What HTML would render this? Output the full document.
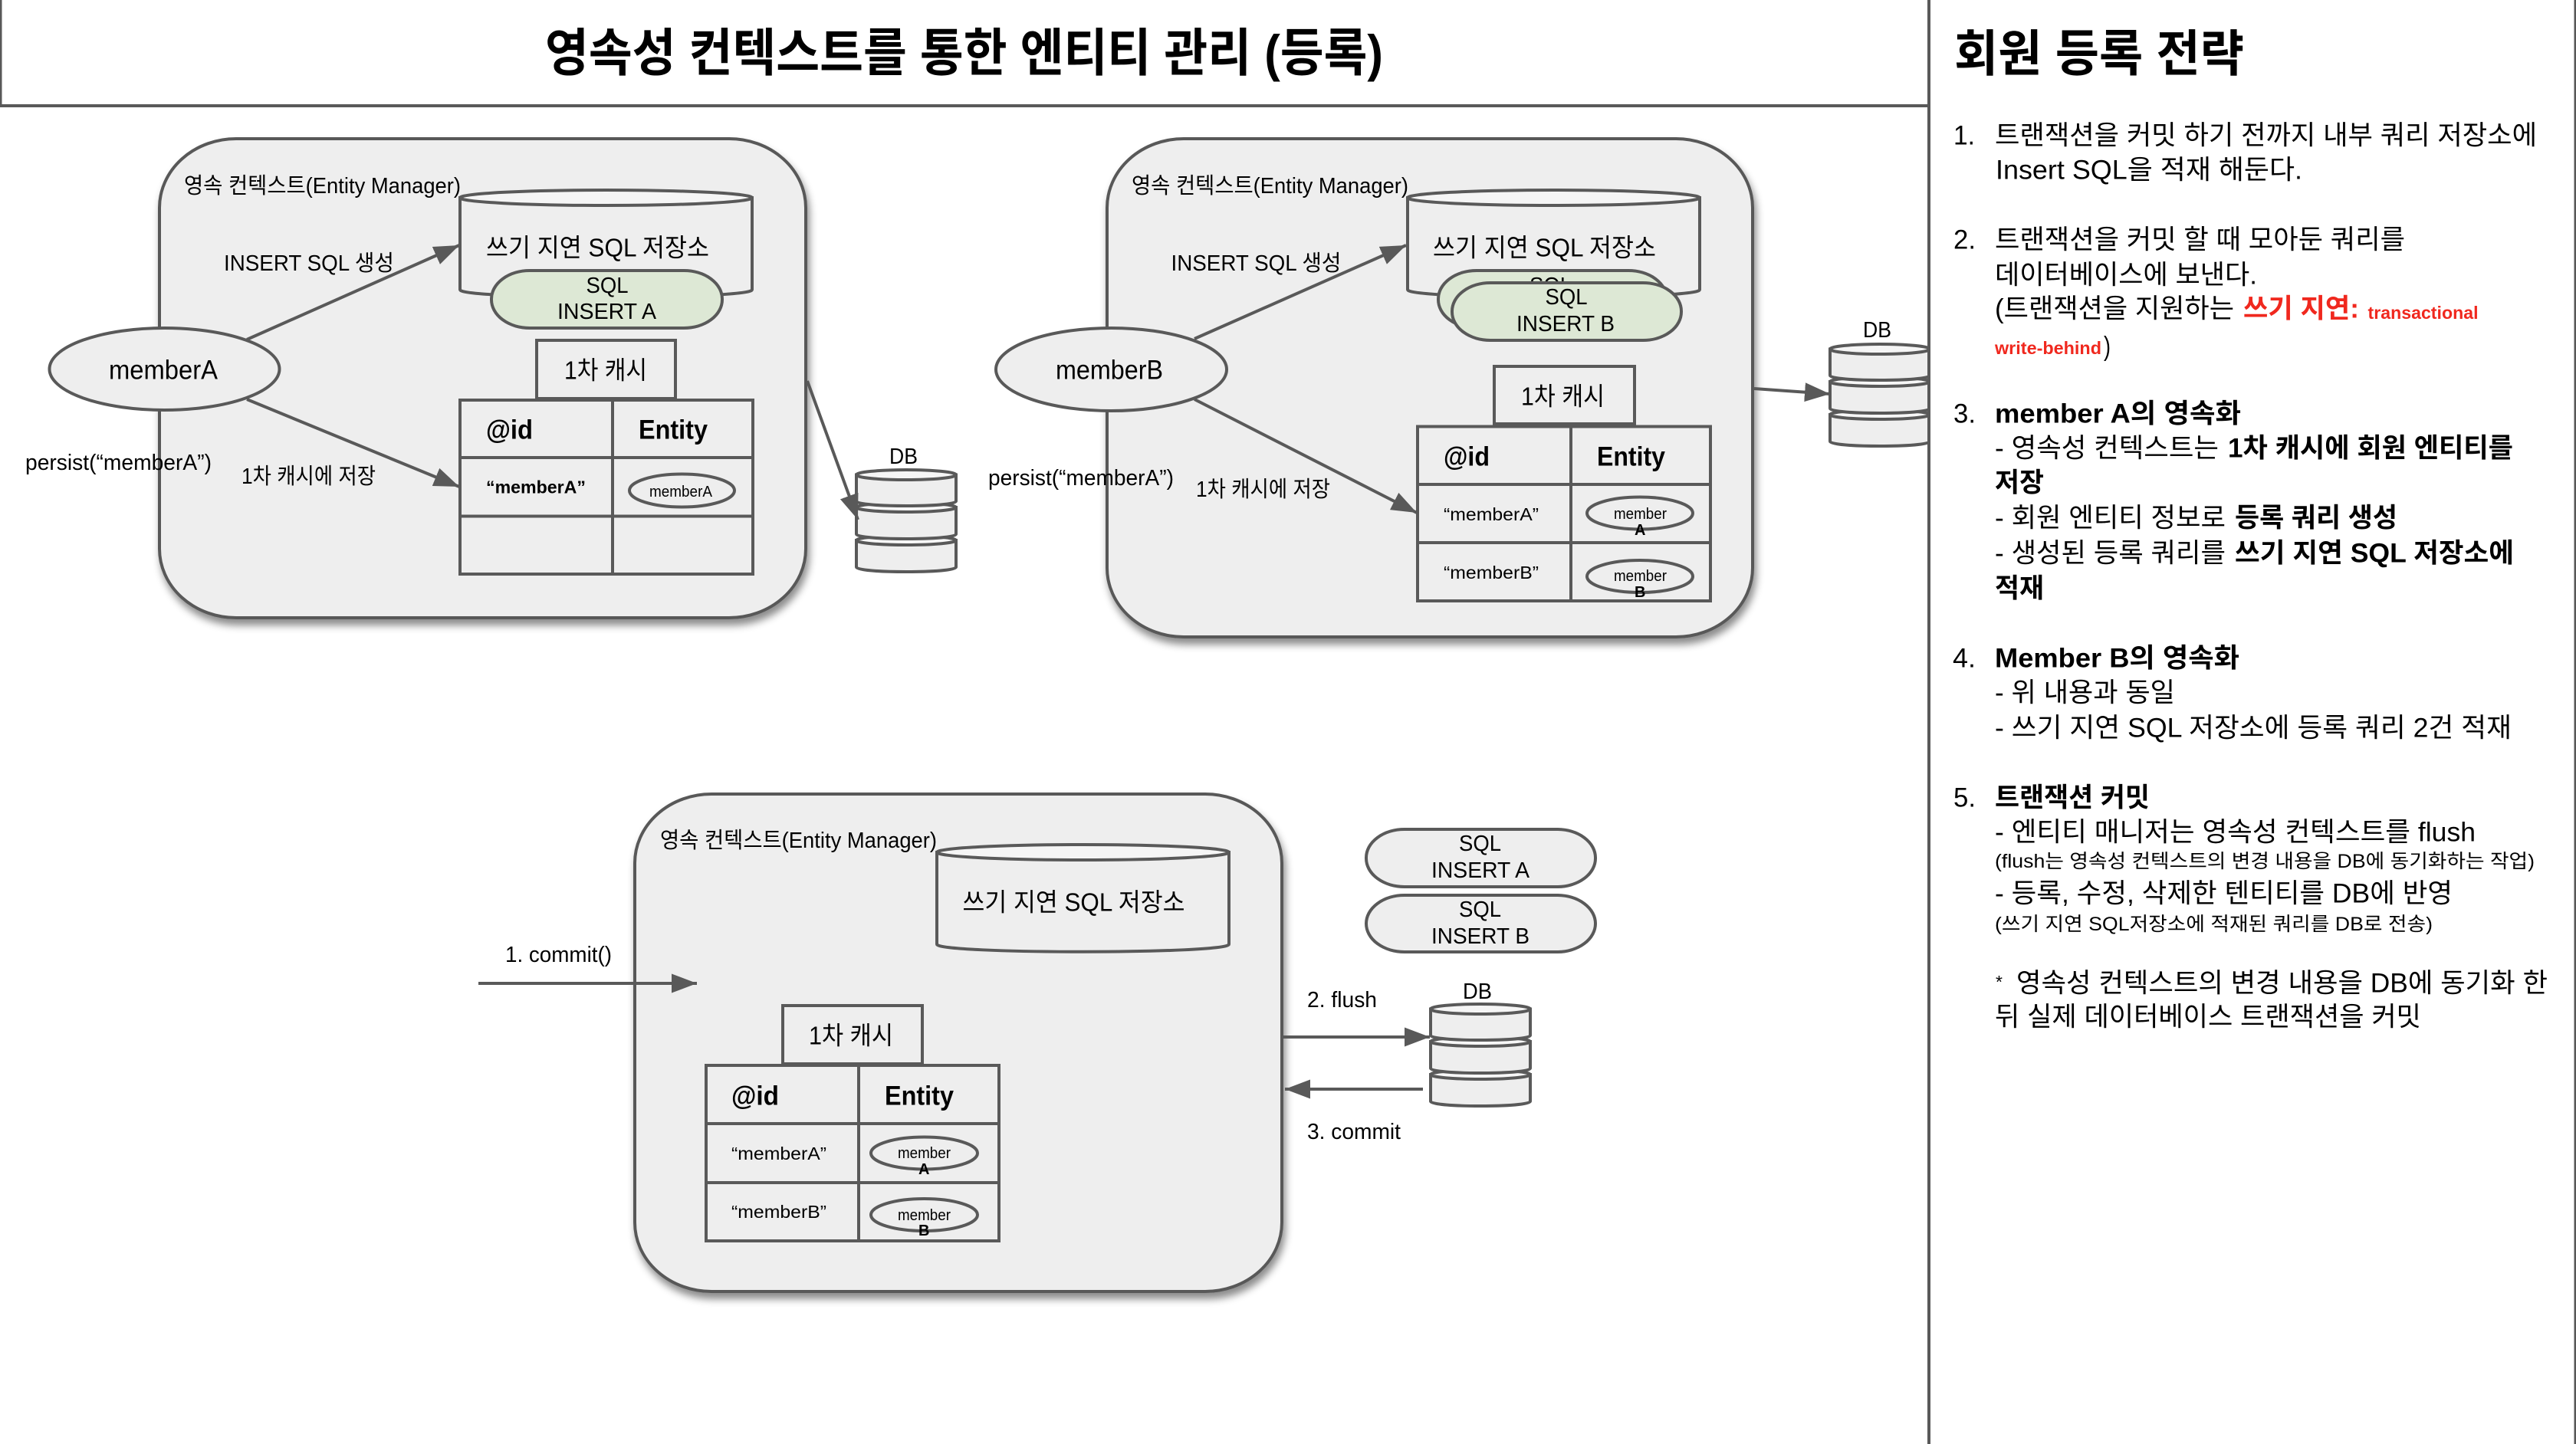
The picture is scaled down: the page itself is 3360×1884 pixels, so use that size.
<!DOCTYPE html>
<html lang="ko">
<head>
<meta charset="utf-8">
<title>영속성 컨텍스트를 통한 엔티티 관리 (등록)</title>
<style>
html,body{margin:0;padding:0;background:#fff;width:3360px;height:1884px;overflow:hidden}
svg{display:block}
text{font-family:"Liberation Sans","Noto Sans CJK KR",sans-serif;fill:#000;dominant-baseline:central;white-space:pre}
.b{font-weight:bold}
.f20{font-size:20px}.f22{font-size:23px}.f28{font-size:29px}.f32{font-size:33px}.f34{font-size:35px}
.r{fill:#f0281e}
.s{fill:none;stroke:#595959;stroke-width:4}
.a{fill:none;stroke:#595959;stroke-width:4;marker-end:url(#ah)}
.e{fill:#eeeeee;stroke:#595959;stroke-width:4}
.box{fill:#eeeeee;stroke:#595959;stroke-width:4;filter:url(#sh)}
.g{fill:#dde8d5;stroke:#595959;stroke-width:4}
</style>
</head>
<body>
<svg xmlns="http://www.w3.org/2000/svg" width="3360" height="1884" viewBox="0 0 3360 1884">
<defs>
<filter id="sh" x="-5%" y="-5%" width="110%" height="112%">
<feDropShadow dx="3" dy="8" stdDeviation="5" flood-color="#000" flood-opacity=".45"/>
</filter>
<marker id="ah" markerUnits="userSpaceOnUse" markerWidth="34" markerHeight="26" refX="33" refY="12.5" orient="auto">
<path d="M0,0 L33,12.5 L0,25 Z" fill="#595959"/>
</marker>
<g id="db">
<path d="M0,92 V127 C0,135 130,135 130,127 V92 Z" class="e"/>
<ellipse cx="65" cy="92" rx="65" ry="6" fill="#f7f7f7" stroke="#595959" stroke-width="4"/>
<path d="M0,49 V84 C0,92 130,92 130,84 V49 Z" class="e"/>
<ellipse cx="65" cy="49" rx="65" ry="6" fill="#f7f7f7" stroke="#595959" stroke-width="4"/>
<path d="M0,6.500 V41 C0,49 130,49 130,41 V6.500 Z" class="e"/>
<ellipse cx="65" cy="6.500" rx="65" ry="6.500" fill="#f5f5f5" stroke="#595959" stroke-width="4"/>
</g>
<g id="cyl">
<path d="M0,10 V130 C0,143 381,143 381,130 V10 Z" class="e"/>
<ellipse cx="190.5" cy="10" rx="190.5" ry="10" fill="#f5f5f5" stroke="#595959" stroke-width="4"/>
</g>
</defs>

<!-- frame -->
<line x1="1" y1="0" x2="1" y2="138" stroke="#595959" stroke-width="3"/>
<line x1="0" y1="138" x2="2516" y2="138" stroke="#595959" stroke-width="4"/>
<text x="711" y="70" class="b" font-size="67" textLength="1093" lengthAdjust="spacingAndGlyphs">영속성 컨텍스트를 통한 엔티티 관리 (등록)</text>

<!-- Diagram A -->
<rect x="208" y="181" width="843" height="625" rx="100" ry="90" class="box"/>
<text x="240" y="243" class="f28" textLength="361" lengthAdjust="spacingAndGlyphs">영속 컨텍스트(Entity Manager)</text>
<use href="#cyl" x="600" y="248"/>
<text x="634" y="323" class="f32" textLength="291" lengthAdjust="spacingAndGlyphs">쓰기 지연 SQL 저장소</text>
<rect x="641" y="353" width="301" height="75" rx="50" ry="37" class="g"/>
<text x="764.500" y="373" class="f28" textLength="55" lengthAdjust="spacingAndGlyphs">SQL</text>
<text x="727" y="407" class="f28" textLength="129" lengthAdjust="spacingAndGlyphs">INSERT A</text>
<rect x="700" y="444" width="181" height="76" class="s"/>
<text x="736" y="483" class="f32" textLength="108" lengthAdjust="spacingAndGlyphs">1차 캐시</text>
<rect x="600" y="522" width="382" height="227" class="s"/>
<path d="M799,522 V749 M600,597 H982 M600,673.500 H982" class="s"/>
<text x="634" y="561" class="f34 b" textLength="61" lengthAdjust="spacingAndGlyphs">@id</text>
<text x="833" y="561" class="f34 b" textLength="90" lengthAdjust="spacingAndGlyphs">Entity</text>
<text x="634" y="635.500" class="f22 b" textLength="130" lengthAdjust="spacingAndGlyphs">“memberA”</text>
<ellipse cx="889.500" cy="640" rx="68.500" ry="21.500" class="s"/>
<text x="847" y="642" class="f20" textLength="82" lengthAdjust="spacingAndGlyphs">memberA</text>
<ellipse cx="214.500" cy="481.500" rx="150" ry="53.500" class="e"/>
<text x="142" y="483" class="f34" textLength="142" lengthAdjust="spacingAndGlyphs">memberA</text>
<line x1="322" y1="443" x2="599" y2="320" class="a"/>
<line x1="322" y1="521" x2="599" y2="635" class="a"/>
<text x="292" y="344" class="f28" textLength="222" lengthAdjust="spacingAndGlyphs">INSERT SQL 생성</text>
<text x="33" y="604" class="f28" textLength="243" lengthAdjust="spacingAndGlyphs">persist(“memberA”)</text>
<text x="315" y="622" class="f28" textLength="175" lengthAdjust="spacingAndGlyphs">1차 캐시에 저장</text>
<use href="#db" x="1117" y="613"/>
<text x="1160" y="596" class="f28" textLength="37" lengthAdjust="spacingAndGlyphs">DB</text>
<line x1="1053" y1="497" x2="1119" y2="678" class="a"/>

<!-- Diagram B -->
<rect x="1444" y="181" width="842" height="650" rx="100" ry="90" class="box"/>
<text x="1476" y="243" class="f28" textLength="361" lengthAdjust="spacingAndGlyphs">영속 컨텍스트(Entity Manager)</text>
<use href="#cyl" x="1836" y="248"/>
<text x="1869" y="323" class="f32" textLength="291" lengthAdjust="spacingAndGlyphs">쓰기 지연 SQL 저장소</text>
<rect x="1876" y="353" width="298" height="75" rx="50" ry="37" class="g"/>
<text x="1995" y="373" class="f28" textLength="55" lengthAdjust="spacingAndGlyphs">SQL</text>
<rect x="1894" y="369" width="299" height="75" rx="50" ry="37" class="g"/>
<text x="2015.500" y="388" class="f28" textLength="55" lengthAdjust="spacingAndGlyphs">SQL</text>
<text x="1978" y="423" class="f28" textLength="128" lengthAdjust="spacingAndGlyphs">INSERT B</text>
<rect x="1949" y="478" width="183" height="75" class="s"/>
<text x="1984" y="517" class="f32" textLength="109" lengthAdjust="spacingAndGlyphs">1차 캐시</text>
<rect x="1849" y="556.500" width="382" height="227.500" class="s"/>
<path d="M2049,556.500 V784 M1849,632 H2231 M1849,708 H2231" class="s"/>
<text x="1883" y="596" class="f34 b" textLength="60" lengthAdjust="spacingAndGlyphs">@id</text>
<text x="2083" y="596" class="f34 b" textLength="89" lengthAdjust="spacingAndGlyphs">Entity</text>
<text x="1883" y="671" class="f22" textLength="124" lengthAdjust="spacingAndGlyphs">“memberA”</text>
<text x="1883" y="747" class="f22" textLength="124" lengthAdjust="spacingAndGlyphs">“memberB”</text>
<ellipse cx="2139" cy="669.500" rx="69" ry="21" class="s"/>
<text x="2105" y="671" class="f20" textLength="69" lengthAdjust="spacingAndGlyphs">member</text>
<text x="2132" y="692" class="f20 b">A</text>
<ellipse cx="2139" cy="752" rx="69" ry="21" class="s"/>
<text x="2105" y="752" class="f20" textLength="69" lengthAdjust="spacingAndGlyphs">member</text>
<text x="2132" y="773" class="f20 b">B</text>
<ellipse cx="1449.500" cy="482" rx="150.500" ry="54" class="e"/>
<text x="1377" y="483" class="f34" textLength="140" lengthAdjust="spacingAndGlyphs">memberB</text>
<line x1="1558" y1="442" x2="1834" y2="320" class="a"/>
<line x1="1558" y1="521" x2="1848" y2="669" class="a"/>
<text x="1527.500" y="344" class="f28" textLength="222" lengthAdjust="spacingAndGlyphs">INSERT SQL 생성</text>
<text x="1289" y="624" class="f28" textLength="242" lengthAdjust="spacingAndGlyphs">persist(“memberA”)</text>
<text x="1560" y="639" class="f28" textLength="175" lengthAdjust="spacingAndGlyphs">1차 캐시에 저장</text>
<use href="#db" x="2387" y="449"/>
<text x="2430" y="431" class="f28" textLength="37" lengthAdjust="spacingAndGlyphs">DB</text>
<line x1="2288" y1="507" x2="2387" y2="514" class="a"/>

<!-- Diagram C -->
<rect x="828" y="1036" width="844" height="649" rx="100" ry="90" class="box"/>
<text x="861" y="1097" class="f28" textLength="361" lengthAdjust="spacingAndGlyphs">영속 컨텍스트(Entity Manager)</text>
<use href="#cyl" x="1222" y="1102"/>
<text x="1255.500" y="1177" class="f32" textLength="290" lengthAdjust="spacingAndGlyphs">쓰기 지연 SQL 저장소</text>
<rect x="1021" y="1312" width="182" height="76" class="s"/>
<text x="1055" y="1351" class="f32" textLength="110" lengthAdjust="spacingAndGlyphs">1차 캐시</text>
<rect x="921" y="1390" width="382" height="229" class="s"/>
<path d="M1120,1390 V1619 M921,1466 H1303 M921,1543 H1303" class="s"/>
<text x="954" y="1430" class="f34 b" textLength="62" lengthAdjust="spacingAndGlyphs">@id</text>
<text x="1154" y="1430" class="f34 b" textLength="90" lengthAdjust="spacingAndGlyphs">Entity</text>
<text x="954" y="1505" class="f22" textLength="124" lengthAdjust="spacingAndGlyphs">“memberA”</text>
<text x="954" y="1581" class="f22" textLength="124" lengthAdjust="spacingAndGlyphs">“memberB”</text>
<ellipse cx="1205.500" cy="1504.500" rx="69.500" ry="21" class="s"/>
<text x="1171" y="1505" class="f20" textLength="69" lengthAdjust="spacingAndGlyphs">member</text>
<text x="1198" y="1526" class="f20 b">A</text>
<ellipse cx="1205.500" cy="1585" rx="69.500" ry="21" class="s"/>
<text x="1171" y="1586" class="f20" textLength="69" lengthAdjust="spacingAndGlyphs">member</text>
<text x="1198" y="1606" class="f20 b">B</text>
<rect x="1782" y="1082" width="299" height="75" rx="50" ry="37" class="e"/>
<text x="1903" y="1101" class="f28" textLength="55" lengthAdjust="spacingAndGlyphs">SQL</text>
<text x="1867" y="1136" class="f28" textLength="128" lengthAdjust="spacingAndGlyphs">INSERT A</text>
<rect x="1782" y="1168" width="299" height="74" rx="50" ry="37" class="e"/>
<text x="1903" y="1187" class="f28" textLength="55" lengthAdjust="spacingAndGlyphs">SQL</text>
<text x="1867" y="1222" class="f28" textLength="128" lengthAdjust="spacingAndGlyphs">INSERT B</text>
<line x1="624" y1="1283" x2="909" y2="1283" class="a"/>
<text x="659" y="1246" class="f28" textLength="139" lengthAdjust="spacingAndGlyphs">1. commit()</text>
<text x="1705" y="1305" class="f28" textLength="91" lengthAdjust="spacingAndGlyphs">2. flush</text>
<line x1="1674" y1="1353" x2="1865" y2="1353" class="a"/>
<text x="1705" y="1477" class="f28" textLength="122" lengthAdjust="spacingAndGlyphs">3. commit</text>
<line x1="1856" y1="1421" x2="1676" y2="1421" class="a"/>
<use href="#db" x="1866" y="1310"/>
<text x="1908" y="1294" class="f28" textLength="38" lengthAdjust="spacingAndGlyphs">DB</text>

<!-- right panel -->
<rect x="2516" y="0" width="844" height="1884" fill="#fff"/>
<line x1="2516" y1="0" x2="2516" y2="1884" stroke="#595959" stroke-width="4"/>
<line x1="3359" y1="0" x2="3359" y2="1884" stroke="#595959" stroke-width="3"/>
<text x="2549" y="70" class="b" font-size="65" textLength="378" lengthAdjust="spacingAndGlyphs">회원 등록 전략</text>

<text x="2548" y="177" class="f34" textLength="28" lengthAdjust="spacingAndGlyphs">1.</text>
<text x="2602" y="177" class="f34" textLength="707" lengthAdjust="spacingAndGlyphs">트랜잭션을 커밋 하기 전까지 내부 쿼리 저장소에</text>
<text x="2603" y="222" class="f34" textLength="400" lengthAdjust="spacingAndGlyphs">Insert SQL을 적재 해둔다.</text>

<text x="2548" y="313" class="f34" textLength="29" lengthAdjust="spacingAndGlyphs">2.</text>
<text x="2602" y="313" class="f34" textLength="535" lengthAdjust="spacingAndGlyphs">트랜잭션을 커밋 할 때 모아둔 쿼리를</text>
<text x="2602" y="359" class="f34" textLength="342" lengthAdjust="spacingAndGlyphs">데이터베이스에 보낸다.</text>
<text x="2602" y="403" class="f34" textLength="312" lengthAdjust="spacingAndGlyphs">(트랜잭션을 지원하는</text>
<text x="2926" y="403" class="f34 b r" textLength="151" lengthAdjust="spacingAndGlyphs">쓰기 지연:</text>
<text x="3088.500" y="408" class="f22 b r" textLength="144" lengthAdjust="spacingAndGlyphs">transactional</text>
<text x="2602" y="454" class="f22 b r" textLength="139" lengthAdjust="spacingAndGlyphs">write-behind</text>
<text x="2744" y="452" class="f34" textLength="9" lengthAdjust="spacingAndGlyphs">)</text>

<text x="2548" y="540" class="f34" textLength="29" lengthAdjust="spacingAndGlyphs">3.</text>
<text x="2602" y="540" class="f34 b" textLength="321" lengthAdjust="spacingAndGlyphs">member A의 영속화</text>
<text x="2602" y="585" class="f34" textLength="292" lengthAdjust="spacingAndGlyphs">- 영속성 컨텍스트는</text>
<text x="2906" y="585" class="f34 b" textLength="372" lengthAdjust="spacingAndGlyphs">1차 캐시에 회원 엔티티를</text>
<text x="2602" y="630" class="f34 b" textLength="64" lengthAdjust="spacingAndGlyphs">저장</text>
<text x="2602" y="676" class="f34" textLength="301" lengthAdjust="spacingAndGlyphs">- 회원 엔티티 정보로</text>
<text x="2915" y="676" class="f34 b" textLength="212" lengthAdjust="spacingAndGlyphs">등록 쿼리 생성</text>
<text x="2602" y="722" class="f34" textLength="301" lengthAdjust="spacingAndGlyphs">- 생성된 등록 쿼리를</text>
<text x="2915" y="722" class="f34 b" textLength="364" lengthAdjust="spacingAndGlyphs">쓰기 지연 SQL 저장소에</text>
<text x="2602" y="768" class="f34 b" textLength="64" lengthAdjust="spacingAndGlyphs">적재</text>

<text x="2547" y="859" class="f34" textLength="30" lengthAdjust="spacingAndGlyphs">4.</text>
<text x="2602" y="859" class="f34 b" textLength="319" lengthAdjust="spacingAndGlyphs">Member B의 영속화</text>
<text x="2602" y="904" class="f34" textLength="235" lengthAdjust="spacingAndGlyphs">- 위 내용과 동일</text>
<text x="2602" y="950" class="f34" textLength="674" lengthAdjust="spacingAndGlyphs">- 쓰기 지연 SQL 저장소에 등록 쿼리 2건 적재</text>

<text x="2548" y="1041" class="f34" textLength="29" lengthAdjust="spacingAndGlyphs">5.</text>
<text x="2602" y="1041" class="f34 b" textLength="202" lengthAdjust="spacingAndGlyphs">트랜잭션 커밋</text>
<text x="2602" y="1086" class="f34" textLength="627" lengthAdjust="spacingAndGlyphs">- 엔티티 매니저는 영속성 컨텍스트를 flush</text>
<text x="2602" y="1124" font-size="25" textLength="704" lengthAdjust="spacingAndGlyphs">(flush는 영속성 컨텍스트의 변경 내용을 DB에 동기화하는 작업)</text>
<text x="2602" y="1166" class="f34" textLength="597" lengthAdjust="spacingAndGlyphs">- 등록, 수정, 삭제한 텐티티를 DB에 반영</text>
<text x="2602" y="1206" font-size="25" textLength="571" lengthAdjust="spacingAndGlyphs">(쓰기 지연 SQL저장소에 적재된 쿼리를 DB로 전송)</text>

<text x="2603" y="1281" class="f22">*</text>
<text x="2630" y="1283" class="f34" textLength="693" lengthAdjust="spacingAndGlyphs">영속성 컨텍스트의 변경 내용을 DB에 동기화 한</text>
<text x="2602" y="1327" class="f34" textLength="556" lengthAdjust="spacingAndGlyphs">뒤 실제 데이터베이스 트랜잭션을 커밋</text>
</svg>
</body>
</html>
